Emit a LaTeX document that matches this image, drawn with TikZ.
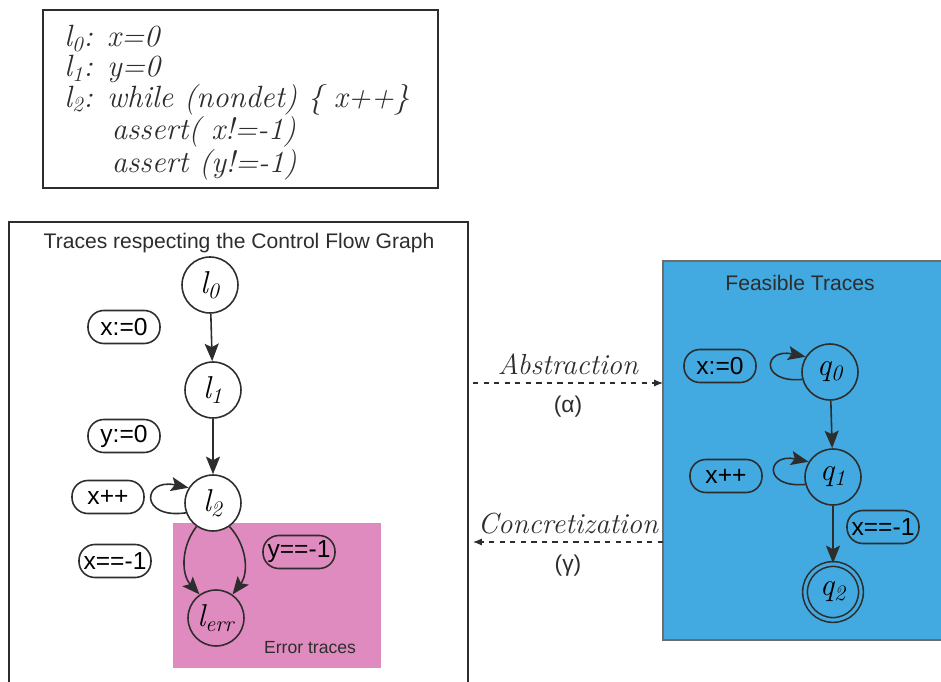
\documentclass[tikz,border=0pt]{standalone}
\usepackage{fontspec}
\setsansfont{Liberation Sans}
\usetikzlibrary{positioning,arrows.meta}
\definecolor{errpink}{RGB}{224,139,191}
\definecolor{feasblue}{RGB}{66,170,224}
\definecolor{inkgray}{RGB}{45,45,45}

\tikzset{
  state/.style={circle,draw=inkgray,line width=0.9pt,minimum size=1.12cm,inner sep=0pt,
    font=\itshape\fontsize{18}{18}\selectfont},
  guard/.style={draw=inkgray,line width=0.9pt,rounded corners=9pt,minimum width=1.44cm,
    minimum height=0.66cm,inner sep=1pt,font=\sffamily\fontsize{14}{14}\selectfont},
  trans/.style={-{Stealth[length=10pt,width=8pt,inset=2pt]},line width=0.9pt,draw=inkgray},
  mapto/.style={-{Latex[length=5pt,width=4pt]},dashed,line width=0.6pt,draw=inkgray},
  hand/.style={font=\itshape\fontsize{16.5}{16.5}\selectfont,text=inkgray},
  greek/.style={font=\sffamily\fontsize{13}{13}\selectfont,text=inkgray},
}

\begin{document}
\begin{tikzpicture}[x=0.02cm,y=0.02cm]
\useasboundingbox (0,0) rectangle (941,-682);
% the program
\draw[inkgray,line width=1.2pt] (43,-10) rectangle (438,-188);
\node[anchor=north west,align=left,inner sep=0pt,text=inkgray,
      font=\itshape\fontsize{17.5}{17.2}\selectfont] (prog) at (64,-25)
  {l\textsubscript{0}: x=0\\
   l\textsubscript{1}: y=0\\
   l\textsubscript{2}: while (nondet) \{ x++\}\\
   \hspace*{27pt}assert( x!=-1)\\
   \hspace*{27pt}assert (y!=-1)};

% control flow graph
\draw[inkgray,line width=0.9pt] (9,-690) |- (468,-222) -- (468,-690);
\node[font=\sffamily\fontsize{12}{12}\selectfont,text=inkgray] (cfgtitle) at (239,-243)
  {Traces respecting the Control Flow Graph};
\fill[errpink] (173,-523) rectangle (381,-668);
\node[font=\sffamily\fontsize{10}{10}\selectfont,text=inkgray] (errtitle) at (310,-648) {Error traces};

\node[state,fill=white] (l0) at (210,-285) {l\textsubscript{0}};
\node[state,fill=white] (l1) at (213,-390) {l\textsubscript{1}};
\node[state,fill=white] (l2) at (213,-503) {l\textsubscript{2}};
\node[state] (lerr) at (216,-618) {l\textsubscript{err}};

\draw[trans] (l0) -- (l1);
\draw[trans] (l1) -- (l2);
\draw[trans] (l2.200) to[out=188,in=168,looseness=4.8] (l2.148);
\draw[trans] (l2.235) to[bend right=40] (lerr.125);
\draw[trans] (l2.305) to[bend left=40] (lerr.55);

\node[guard] (gx0) at (124,-327) {x:=0};
\node[guard] (gy0) at (124,-436) {y:=0};
\node[guard] (gxinc) at (108,-497) {x++};
\node[guard] (gxerr) at (115,-561) {x==-1};
\node[guard] (gyerr) at (299,-552) {y==-1};

% feasible traces
\filldraw[fill=feasblue,draw=inkgray!70,line width=0.6pt] (663,-261) rectangle (950,-640);
\node[font=\sffamily\fontsize{12}{12}\selectfont,text=inkgray] (feastitle) at (800,-283) {Feasible Traces};

\node[state] (q0) at (830,-372) {q\textsubscript{0}};
\node[state] (q1) at (833,-477) {q\textsubscript{1}};
\node[state,double=feasblue,double distance=1.8pt] (q2) at (833,-592) {q\textsubscript{2}};

\draw[trans] (q0) -- (q1);
\draw[trans] (q1) -- (q2);
\draw[trans] (q0.195) to[out=185,in=168,looseness=4.8] (q0.148);
\draw[trans] (q1.195) to[out=185,in=168,looseness=4.8] (q1.148);

\node[guard] (hx0) at (720,-366) {x:=0};
\node[guard] (hxinc) at (726,-476) {x++};
\node[guard] (hxerr) at (883,-527) {x==-1};

% abstraction and concretization
\coordinate (absL) at (473,-383);
\coordinate (absR) at (663,-383);
\coordinate (conL) at (473,-542);
\coordinate (conR) at (663,-542);
\draw[mapto] (absL) -- (absR)
  node[midway,above=1pt,hand] (abstxt) {Abstraction}
  node[midway,below=4pt,greek] (alpha) {(α)};
\draw[mapto] (conR) -- (conL)
  node[midway,above=1pt,hand] (contxt) {Concretization}
  node[midway,below=4pt,greek] (gamma) {(γ)};
\end{tikzpicture}
\end{document}
